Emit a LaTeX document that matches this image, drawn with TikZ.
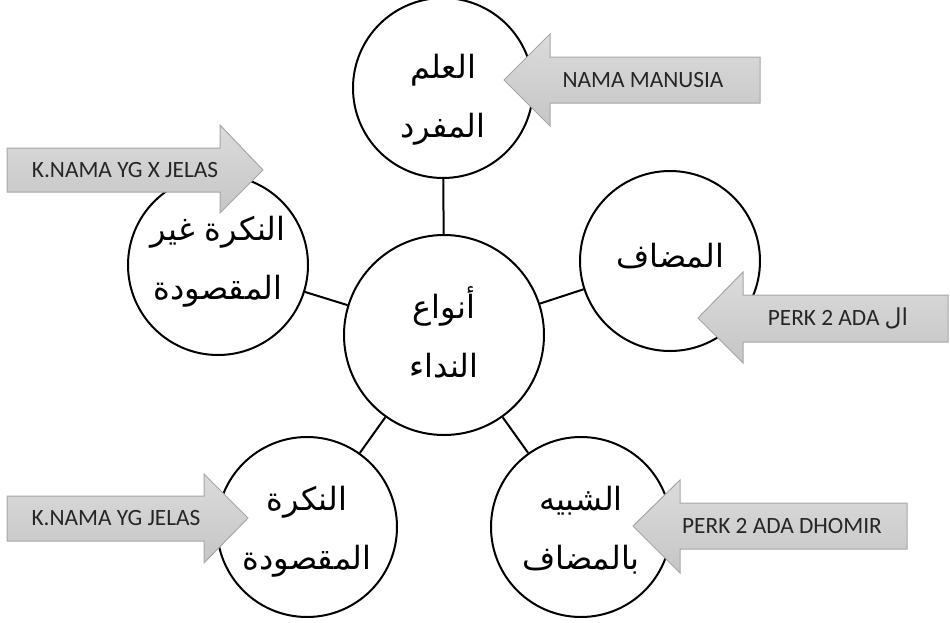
\documentclass[tikz,border=0pt]{standalone}
\usepackage{fontspec}
\setmainfont{Carlito}
\newfontfamily\arabicfont[Script=Arabic]{DejaVu Sans}
\TeXXeTstate=1
\newcommand\arln[1]{{\arabicfont\beginR #1\endR}}
\begin{document}
\begin{tikzpicture}[x=0.75pt,y=-0.75pt,
 bubble/.style={circle,draw=black,line width=1.5pt,fill=white,minimum size=135pt,inner sep=0pt},
 hub/.style={bubble,minimum size=150pt},
 arlbl/.style={align=center,inner sep=0pt,font=\fontsize{24}{44}\selectfont},
 link/.style={line width=1.5pt},
 blockarrow/.style={draw=gray!70,line width=0.75pt,top color=gray!28,bottom color=gray!45},
 arrowtext/.style={font=\fontsize{17.5}{20}\selectfont,text=black!85,inner sep=0pt}]
\useasboundingbox (0,0) rectangle (950,622);
% circles
\node[hub] (hub) at (444,335) {};
\node[bubble] (top) at (443,88) {};
\node[bubble] (left) at (218,265) {};
\node[bubble] (right) at (670,261) {};
\node[bubble] (bl) at (307,527) {};
\node[bubble] (br) at (581,527) {};
% connectors
\draw[link] (hub) -- (top);
\draw[link] (hub) -- (left);
\draw[link] (hub) -- (right);
\draw[link] (hub) -- (bl);
\draw[link] (hub) -- (br);
% circle texts
\node[arlbl] (thub) at (444,332) {\arln{أنواع}\\\arln{النداء}};
\node[arlbl] (ttop) at (443,100) {\arln{العلم}\\\arln{المفرد}};
\node[arlbl] (tleft) at (218,262) {\arln{النكرة غير}\\\arln{المقصودة}};
\node[arlbl] (tright) at (670,256) {\arln{المضاف}};
\node[arlbl] (tbl) at (307,532) {\arln{النكرة}\\\arln{المقصودة}};
\node[arlbl] (tbr) at (581,530) {\arln{الشبيه}\\\arln{بالمضاف}};
% block arrows
\draw[blockarrow] (504,80) -- (550,34) -- (550,57) -- (760,57) -- (760,103) -- (550,103) -- (550,126) -- cycle;
\node[arrowtext] (a1) at (643,80) {NAMA MANUSIA};
\draw[blockarrow] (7,148) -- (220,148) -- (220,125) -- (263,170) -- (220,213) -- (220,192) -- (7,192) -- cycle;
\node[arrowtext] (a2) at (125,170) {K.NAMA YG X JELAS};
\draw[blockarrow] (698,318) -- (743,272) -- (743,295) -- (948,295) -- (948,342) -- (743,342) -- (743,363) -- cycle;
\node[arrowtext] (a3) at (838,318) {PERK 2 ADA {\arabicfont\beginR ال\endR}};
\draw[blockarrow] (7,496) -- (204,496) -- (204,474) -- (248,518) -- (204,563) -- (204,541) -- (7,541) -- cycle;
\node[arrowtext] (a4) at (116,518) {K.NAMA YG JELAS};
\draw[blockarrow] (633,526) -- (680,480) -- (680,503) -- (907,503) -- (907,549) -- (680,549) -- (680,573) -- cycle;
\node[arrowtext] (a5) at (782,526) {PERK 2 ADA DHOMIR};
\end{tikzpicture}
\end{document}
